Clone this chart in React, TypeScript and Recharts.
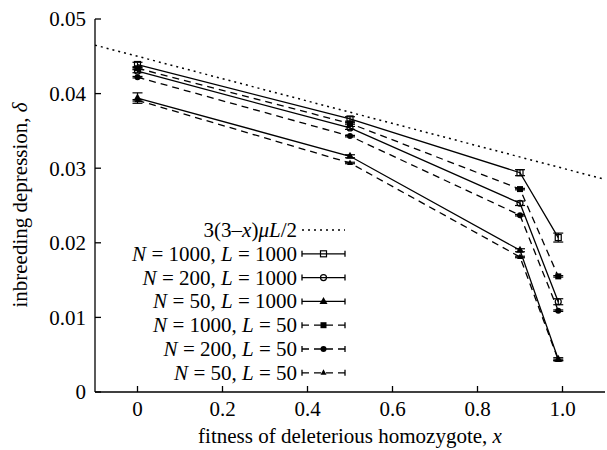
import { LineChart, Line, XAxis, YAxis, ErrorBar } from "recharts";

const FONT = '"Liberation Serif", "Times New Roman", Times, serif';
const FS = 21;

// x positions of the simulated points
const xValues = [0, 0.5, 0.9, 0.99];

// inbreeding depression
const n1000L1000 = [0.0439, 0.0366, 0.0294, 0.0207];
const n200L1000 = [0.043, 0.0354, 0.0253, 0.0121];
const n50L1000 = [0.0394, 0.0316, 0.019, 0.0044];
const n1000L50 = [0.0434, 0.036, 0.0272, 0.0155];
const n200L50 = [0.0422, 0.0343, 0.0237, 0.0109];
const n50L50 = [0.0391, 0.0307, 0.0181, 0.0043];

// error bar half-widths
const n1000L1000Err = [0.0003, 0.0003, 0.0004, 0.0006];
const n200L1000Err = [0.0002, 0.0002, 0.0003, 0.0004];
const n50L1000Err = [0.0007, 0.0002, 0.0002, 0.0002];
const n1000L50Err = [0.0001, 0.0001, 0.0001, 0.0001];
const n200L50Err = [0.0001, 0.0001, 0.0001, 0.0001];
const n50L50Err = [0.0001, 0.0001, 0.0001, 0.0001];

// theory line 3(3-x)uL/2, end points at the plot edges
const theoryX = [-0.1, 1.1];
const theoryY = [0.0465, 0.0285];

const xTicks = [0, 0.2, 0.4, 0.6, 0.8, 1.0];
const yTicks = [0, 0.01, 0.02, 0.03, 0.04, 0.05];

const series = [
  { key: "a", n: "1000", l: "1000", values: n1000L1000, errors: n1000L1000Err, shape: "openSquare", dashed: false },
  { key: "b", n: "200", l: "1000", values: n200L1000, errors: n200L1000Err, shape: "openCircle", dashed: false },
  { key: "c", n: "50", l: "1000", values: n50L1000, errors: n50L1000Err, shape: "triangle", dashed: false },
  { key: "d", n: "1000", l: "50", values: n1000L50, errors: n1000L50Err, shape: "square", dashed: true },
  { key: "e", n: "200", l: "50", values: n200L50, errors: n200L50Err, shape: "circle", dashed: true },
  { key: "f", n: "50", l: "50", values: n50L50, errors: n50L50Err, shape: "smallTriangle", dashed: true },
];

const data = xValues.map((x, i) => {
  const row: Record<string, number> = { x };
  series.forEach((s) => {
    row[s.key] = s.values[i];
    row[s.key + "Err"] = s.errors[i];
  });
  return row;
});

const theoryData = theoryX.map((x, i) => ({ x, t: theoryY[i] }));

const DASH = "7 5";

function Marker({ shape, cx, cy }: { shape: string; cx: number; cy: number }) {
  const sw = 1.2;
  switch (shape) {
    case "openSquare":
      return <rect x={cx - 3} y={cy - 3} width={6} height={6} fill="none" stroke="#000" strokeWidth={sw} />;
    case "openCircle":
      return <circle cx={cx} cy={cy} r={3} fill="none" stroke="#000" strokeWidth={sw} />;
    case "triangle":
      return <polygon points={`${cx},${cy - 4.5} ${cx - 4},${cy + 2.5} ${cx + 4},${cy + 2.5}`} fill="#000" />;
    case "square":
      return <rect x={cx - 3} y={cy - 3} width={6} height={6} fill="#000" />;
    case "circle":
      return <circle cx={cx} cy={cy} r={3} fill="#000" />;
    default:
      return <polygon points={`${cx},${cy - 3.5} ${cx - 3},${cy + 2} ${cx + 3},${cy + 2}`} fill="#000" />;
  }
}

function Legend() {
  const rows = [
    { y: 230, theory: true } as any,
    ...series.map((s, i) => ({ y: 253.8 + i * 23.8, s })),
  ];
  const textX = 297;
  const x1 = 302;
  const x2 = 345;
  const xm = (x1 + x2) / 2;
  return (
    <g style={{ fontFamily: FONT }} fontSize={FS} fill="#000">
      {rows.map((r, i) => (
        <g key={i}>
          {r.theory ? (
            <>
              <text x={textX} y={r.y + 7} textAnchor="end">
                3(3–<tspan fontStyle="italic">x</tspan>)<tspan fontStyle="italic">μL</tspan>/2
              </text>
              <line x1={x1} x2={x2} y1={r.y} y2={r.y} stroke="#000" strokeWidth={1.5} strokeDasharray="2 4" />
            </>
          ) : (
            <>
              <text x={textX} y={r.y + 7} textAnchor="end">
                <tspan fontStyle="italic">N</tspan> = {r.s.n}, <tspan fontStyle="italic">L</tspan> = {r.s.l}
              </text>
              <line x1={x1} x2={x2} y1={r.y} y2={r.y} stroke="#000" strokeWidth={1.3}
                strokeDasharray={r.s.dashed ? DASH : undefined} />
              <line x1={x1} x2={x1} y1={r.y - 3} y2={r.y + 3} stroke="#000" strokeWidth={1.3} />
              <line x1={x2} x2={x2} y1={r.y - 3} y2={r.y + 3} stroke="#000" strokeWidth={1.3} />
              <Marker shape={r.s.shape} cx={xm} cy={r.y} />
            </>
          )}
        </g>
      ))}
    </g>
  );
}

const tickStyle = { fill: "#000", fontSize: FS, fontFamily: FONT, style: { fontFamily: FONT } };
const fmtX = (v: number) => (v === 0 ? "0" : v.toFixed(1));
const fmtY = (v: number) => (v === 0 ? "0" : v.toFixed(2));
const blank = () => "";

export default function App() {
  return (
    <div style={{ position: "absolute", left: 0, top: 0, width: 607, height: 450, background: "#fff", fontFamily: FONT }}>
      <LineChart width={607} height={450} data={data} margin={{ top: 19, right: 2, bottom: 0, left: 0 }}>
        <XAxis dataKey="x" type="number" domain={[-0.1, 1.1]} allowDataOverflow ticks={xTicks} interval={0}
          tickFormatter={fmtX} tickSize={-6} tickMargin={15} height={58} stroke="#000" strokeWidth={1.3}
          tick={tickStyle} />
        <XAxis xAxisId="top" orientation="top" dataKey="x" type="number" domain={[-0.1, 1.1]} allowDataOverflow
          ticks={xTicks} interval={0} tickFormatter={blank} tickSize={-6} height={0} stroke="#000" strokeWidth={1.3} />
        <YAxis type="number" domain={[0, 0.05]} allowDataOverflow ticks={yTicks} interval={0} tickFormatter={fmtY}
          tickSize={-6} tickMargin={15} width={95} stroke="#000" strokeWidth={1.3} tick={tickStyle} />
        <YAxis yAxisId="right" orientation="right" type="number" domain={[0, 0.05]} allowDataOverflow ticks={yTicks}
          interval={0} tickFormatter={blank} tickSize={-6} width={0} stroke="#000" strokeWidth={1.3} />
        <Line data={theoryData} dataKey="t" stroke="#000" strokeWidth={1.5} strokeDasharray="2 4" dot={false}
          isAnimationActive={false} />
        {series.map((s) => (
          <Line key={s.key} dataKey={s.key} stroke="#000" strokeWidth={1.3}
            strokeDasharray={s.dashed ? DASH : undefined} isAnimationActive={false}
            dot={(p: any) => <Marker key={p.index} shape={s.shape} cx={p.cx} cy={p.cy} />}>
            <ErrorBar dataKey={s.key + "Err"} width={5} stroke="#000" strokeWidth={1.2} direction="y" />
          </Line>
        ))}
      </LineChart>
      <svg width={607} height={450} style={{ position: "absolute", left: 0, top: 0, pointerEvents: "none" }}>
        <Legend />
        <text x={350} y={443} textAnchor="middle" style={{ fontFamily: FONT }} fontSize={FS} fill="#000">
          fitness of deleterious homozygote, <tspan fontStyle="italic">x</tspan>
        </text>
        <text x={27} y={205} textAnchor="middle" style={{ fontFamily: FONT }} fontSize={FS} fill="#000"
          transform="rotate(-90 27 205)">
          inbreeding depression, <tspan fontStyle="italic">δ</tspan>
        </text>
      </svg>
    </div>
  );
}
